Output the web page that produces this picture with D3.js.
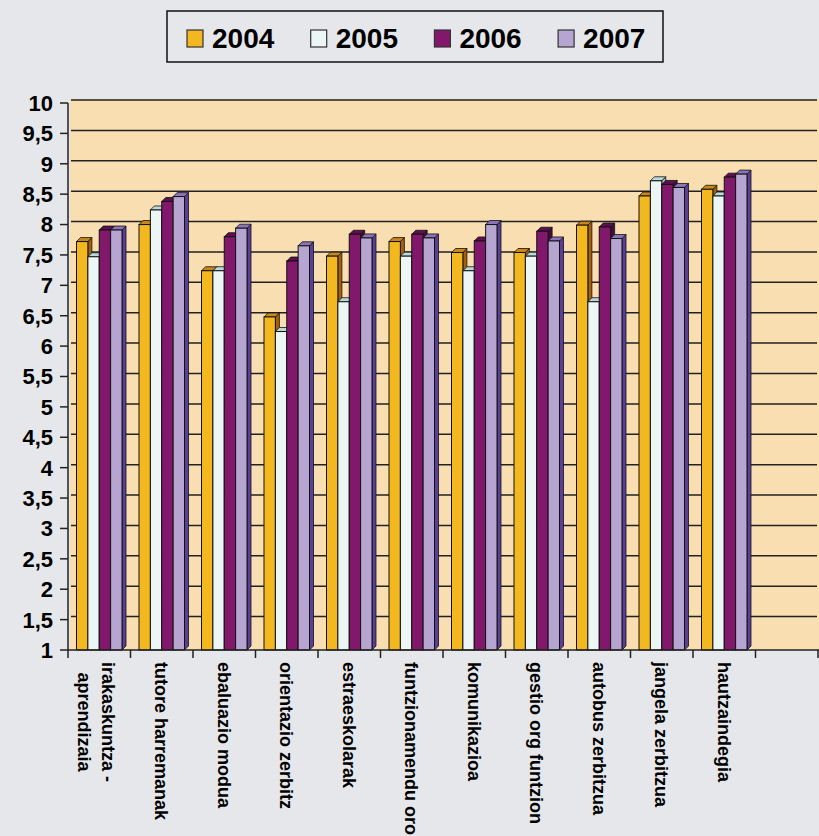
<!DOCTYPE html>
<html lang="eu">
  <head>
    <meta charset="UTF-8" />
    <title>Balorazioak 2004-2007</title>
    <script src="https://cdn.jsdelivr.net/npm/d3@7"></script>
    <style>
      html,
      body {
        margin: 0;
        padding: 0;
        background: #e6e7ea;
      }
      svg {
        display: block;
        font-family: "Liberation Sans", Arial, sans-serif;
      }
    </style>
  </head>
  <body>
    <svg id="chart" width="819" height="836"></svg>
    <script>
      // data
      let categories = [
        "irakaskuntza - aprendizaia",
        "tutore harremanak",
        "ebaluazio modua",
        "orientazio zerbitz",
        "estraeskolarak",
        "funtzionamendu orokorra",
        "komunikazioa",
        "gestio org funtzion",
        "autobus zerbitzua",
        "jangela zerbitzua",
        "hautzaindegia",
      ];
      let years = ["2004", "2005", "2006", "2007"];
      let v2004 = [7.72, 8.0, 7.24, 6.48, 7.48, 7.72, 7.54, 7.54, 7.99, 8.47, 8.58];
      let v2005 = [7.47, 8.24, 7.24, 6.24, 6.73, 7.48, 7.24, 7.48, 6.73, 8.72, 8.47];
      let v2006 = [7.91, 8.38, 7.8, 7.4, 7.84, 7.84, 7.73, 7.89, 7.96, 8.66, 8.78];
      let v2007 = [7.91, 8.46, 7.94, 7.65, 7.78, 7.78, 8.0, 7.73, 7.77, 8.61, 8.83];
      let yTicks = [1, 1.5, 2, 2.5, 3, 3.5, 4, 4.5, 5, 5.5, 6, 6.5, 7, 7.5, 8, 8.5, 9, 9.5, 10];

      let series = [v2004, v2005, v2006, v2007];
      let front = ["#f3b820", "#ebf6f5", "#82186c", "#b7a5d1"];
      let side = ["#a6600c", "#9cc3c2", "#4a0a3d", "#5a3f97"];
      let topc = ["#c9861a", "#b9dad8", "#5e0f4f", "#8a74bb"];

      let svg = d3.select("#chart");
      let plotLeft = 68,
        plotBottom = 650,
        plotTop = 103,
        slotW = 62.5,
        dep = 4;

      // one empty slot is kept at the right end like the original
      let x = d3
        .scaleBand()
        .domain(categories.concat(["_"]))
        .range([plotLeft, plotLeft + slotW * 12])
        .padding(0);
      let xi = d3.scaleBand().domain(years).range([8.5, 54]).padding(0);
      let y = d3.scaleLinear().domain([1, 10]).range([plotBottom, plotTop]);

      // plot background
      svg
        .append("rect")
        .attr("x", plotLeft + 2)
        .attr("y", plotTop - dep)
        .attr("width", 819 - plotLeft)
        .attr("height", plotBottom - plotTop + dep)
        .attr("fill", "#f8deb1");

      // gridlines on back wall
      svg
        .append("g")
        .selectAll("line")
        .data(yTicks.slice(1))
        .join("line")
        .attr("x1", plotLeft + 3)
        .attr("x2", 817)
        .attr("y1", (d) => y(d) - 3)
        .attr("y2", (d) => y(d) - 3)
        .attr("stroke", "#222")
        .attr("stroke-width", 1.5);

      // bars with a small 3d depth
      let g = svg.append("g");
      categories.forEach(function (c, i) {
        years.forEach(function (yr, j) {
          let v = series[j][i];
          let x0 = x(c) + xi(yr);
          let w = xi.bandwidth();
          let y0 = y(v);
          // side
          g.append("path")
            .attr(
              "d",
              `M${x0 + w},${y0} L${x0 + w + dep},${y0 - dep} L${x0 + w + dep},${plotBottom - dep} L${x0 + w},${plotBottom} Z`
            )
            .attr("fill", side[j])
            .attr("stroke", "#111")
            .attr("stroke-width", 0.8);
          // top
          g.append("path")
            .attr(
              "d",
              `M${x0},${y0} L${x0 + dep},${y0 - dep} L${x0 + w + dep},${y0 - dep} L${x0 + w},${y0} Z`
            )
            .attr("fill", topc[j])
            .attr("stroke", "#111")
            .attr("stroke-width", 0.8);
          // front
          g.append("rect")
            .attr("x", x0)
            .attr("y", y0)
            .attr("width", w)
            .attr("height", plotBottom - y0)
            .attr("fill", front[j])
            .attr("stroke", "#111")
            .attr("stroke-width", 1);
        });
      });

      // y axis
      let yAxis = svg.append("g");
      yAxis
        .append("line")
        .attr("x1", plotLeft)
        .attr("x2", plotLeft)
        .attr("y1", plotTop)
        .attr("y2", plotBottom)
        .attr("stroke", "#222")
        .attr("stroke-width", 1.5);
      yAxis
        .selectAll("line.tk")
        .data(yTicks)
        .join("line")
        .attr("class", "tk")
        .attr("x1", plotLeft - 8)
        .attr("x2", plotLeft)
        .attr("y1", (d) => y(d))
        .attr("y2", (d) => y(d))
        .attr("stroke", "#222")
        .attr("stroke-width", 1.5);
      yAxis
        .selectAll("text")
        .data(yTicks)
        .join("text")
        .attr("x", 53)
        .attr("y", (d) => y(d))
        .attr("dy", "0.36em")
        .attr("text-anchor", "end")
        .style("font-size", "22px")
        .style("font-weight", "bold")
        .text((d) => String(d).replace(".", ","));

      // x axis
      let xAxis = svg.append("g");
      xAxis
        .append("line")
        .attr("x1", plotLeft)
        .attr("x2", 819)
        .attr("y1", plotBottom)
        .attr("y2", plotBottom)
        .attr("stroke", "#222")
        .attr("stroke-width", 1.5);
      xAxis
        .selectAll("line.tk")
        .data(d3.range(13))
        .join("line")
        .attr("class", "tk")
        .attr("x1", (d) => plotLeft + d * slotW)
        .attr("x2", (d) => plotLeft + d * slotW)
        .attr("y1", plotBottom)
        .attr("y2", plotBottom + 8)
        .attr("stroke", "#222")
        .attr("stroke-width", 1.5);

      // rotated category labels
      categories.forEach(function (c) {
        let lines = c.includes(" - ") ? [c.split(" - ")[0] + " -", c.split(" - ")[1]] : [c];
        let lh = 24;
        let cx = x(c) + slotW / 2 + ((lines.length - 1) * lh) / 2 - (lines.length - 1) * 3;
        let t = xAxis
          .append("g")
          .attr("transform", `translate(${cx},662) rotate(90)`);
        let texts = lines.map((l, k) =>
          t
            .append("text")
            .attr("x", 0)
            .attr("y", k * lh)
            .attr("dy", "0.35em")
            .style("font-size", "18px")
            .style("font-weight", "bold")
            .text(l)
        );
        let lens = texts.map((tt) => tt.node().getComputedTextLength());
        let maxL = d3.max(lens);
        texts.forEach((tt, k) => tt.attr("x", (maxL - lens[k]) / 2));
      });

      // legend
      let lg = svg.append("g");
      lg.append("rect")
        .attr("x", 167)
        .attr("y", 11)
        .attr("width", 496)
        .attr("height", 51)
        .attr("fill", "none")
        .attr("stroke", "#111")
        .attr("stroke-width", 1.5);
      years.forEach(function (yr, j) {
        let lx = 187 + j * 123.7;
        lg.append("rect")
          .attr("x", lx)
          .attr("y", 30)
          .attr("width", 16)
          .attr("height", 17)
          .attr("fill", front[j])
          .attr("stroke", "#333")
          .attr("stroke-width", 1.2);
        lg.append("text")
          .attr("x", lx + 25)
          .attr("y", 48)
          .style("font-size", "28px")
          .style("font-weight", "bold")
          .text(yr);
      });
    </script>
  </body>
</html>
